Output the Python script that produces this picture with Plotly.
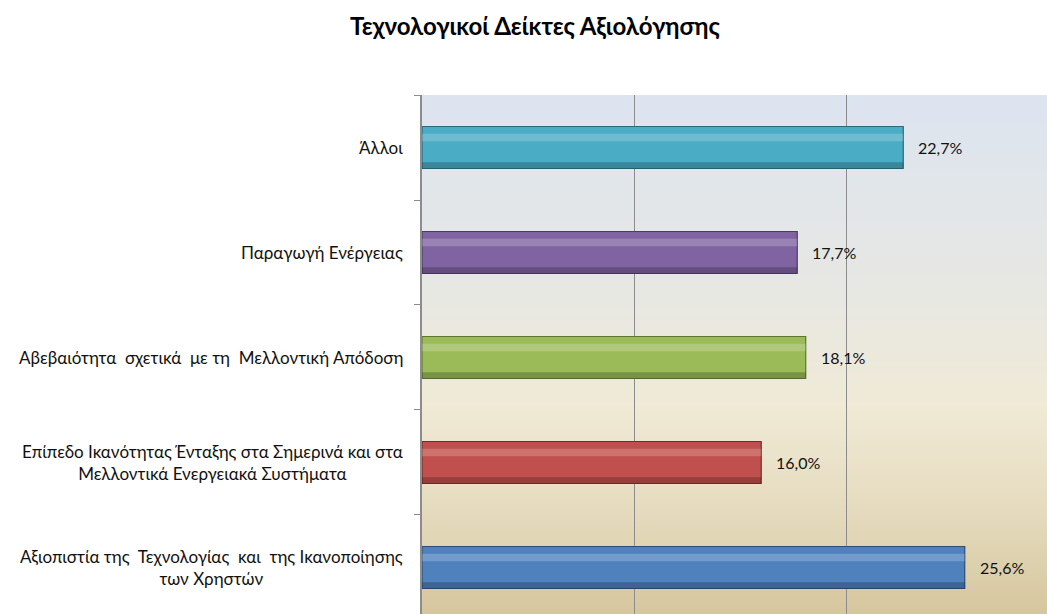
import plotly.graph_objects as go

categories = [
    "Αξιοπιστία της\u00a0 Τεχνολογίας\u00a0 και\u00a0 της Ικανοποίησης<br>των Χρηστών",
    "Επίπεδο Ικανότητας Ένταξης στα Σημερινά και στα<br>Μελλοντικά Ενεργειακά Συστήματα",
    "Αβεβαιότητα\u00a0 σχετικά\u00a0 με τη\u00a0 Μελλοντική Απόδοση",
    "Παραγωγή Ενέργειας",
    "Άλλοι",
]
values = [25.6, 16.0, 18.1, 17.7, 22.7]
colors = ["#4f81bd", "#c0504d", "#9bbb59", "#8064a2", "#4bacc6"]
edge_colors = ["#2c4d75", "#772c2a", "#5f7530", "#4d3b62", "#276a7c"]
title_text = "Τεχνολογικοί Δείκτες Αξιολόγησης"

W, H = 1047, 614
FONT = "Lato"

fig = go.Figure()

fig.add_trace(go.Bar(
    y=categories, x=values, orientation="h", width=0.4,
    marker=dict(color=colors, line=dict(color=edge_colors, width=1.2)),
    hoverinfo="skip", showlegend=False,
))
fig.add_trace(go.Bar(
    y=categories, x=values, orientation="h", width=0.07, offset=0.06,
    marker=dict(color="rgba(255,255,255,0.2)", line=dict(width=0)),
    hoverinfo="skip", showlegend=False,
))
fig.add_trace(go.Bar(
    y=categories, x=values, orientation="h", width=0.06, offset=-0.2,
    marker=dict(color="rgba(0,0,0,0.22)", line=dict(width=0)),
    hoverinfo="skip", showlegend=False,
))

stops = [(0.0, (220, 228, 240)), (0.4, (232, 232, 226)), (0.6, (240, 234, 214)),
         (0.8, (229, 219, 190)), (1.0, (214, 198, 158))]

def col_at(t):
    for (t0, c0), (t1, c1) in zip(stops[:-1], stops[1:]):
        if t0 <= t <= t1:
            f = (t - t0) / (t1 - t0) if t1 > t0 else 0
            return "rgb(%d,%d,%d)" % tuple(round(a + (b - a) * f) for a, b in zip(c0, c1))
    return "rgb(%d,%d,%d)" % stops[-1][1]

shapes = []
N = 90
for i in range(N):
    t = (i + 0.5) / N
    shapes.append(dict(type="rect", xref="paper", yref="paper", x0=0, x1=1,
                       y0=1 - (i + 1) / N - 0.002, y1=1 - i / N,
                       fillcolor=col_at(t), line=dict(width=0), layer="below"))

annotations = []
for c in categories:
    annotations.append(dict(x=0, xref="paper", y=c, yref="y", xanchor="right", yanchor="middle",
                            xshift=-17, text=c, showarrow=False, align="center",
                            font=dict(family=FONT, size=17, color="#111111")))
for c, v in zip(categories, values):
    annotations.append(dict(x=v, xref="x", y=c, yref="y", xanchor="left", yanchor="middle",
                            xshift=13, text=f"{v:.1f}%".replace(".", ","), showarrow=False,
                            font=dict(family=FONT, size=16, color="#111111")))

fig.update_layout(
    width=W, height=H,
    margin=dict(l=422, r=0, t=95, b=0),
    paper_bgcolor="white", plot_bgcolor="rgba(0,0,0,0)",
    barmode="overlay",
    title=dict(text=title_text, x=535 / W, xanchor="center", y=1 - 27 / H, yanchor="middle",
               xref="container", yref="container",
               font=dict(family=FONT, size=24, color="#000000", weight="bold")),
    shapes=shapes, annotations=annotations,
    xaxis=dict(range=[0, 29.48], dtick=10, showgrid=True, gridcolor="#8c8c8c", gridwidth=1,
               showticklabels=False, zeroline=False, showline=False, ticks=""),
    yaxis=dict(type="category", categoryorder="array", categoryarray=categories,
               range=[-0.443, 4.5], showticklabels=False, showgrid=False,
               showline=True, linecolor="#8c8c8c", linewidth=1.5,
               ticks="outside", tickson="boundaries", ticklen=6, tickcolor="#8c8c8c"),
    font=dict(family=FONT),
)

fig.write_html("out.html", config={"displayModeBar": False},
               post_script="document.body.style.margin='0';document.body.style.overflow='hidden';")
